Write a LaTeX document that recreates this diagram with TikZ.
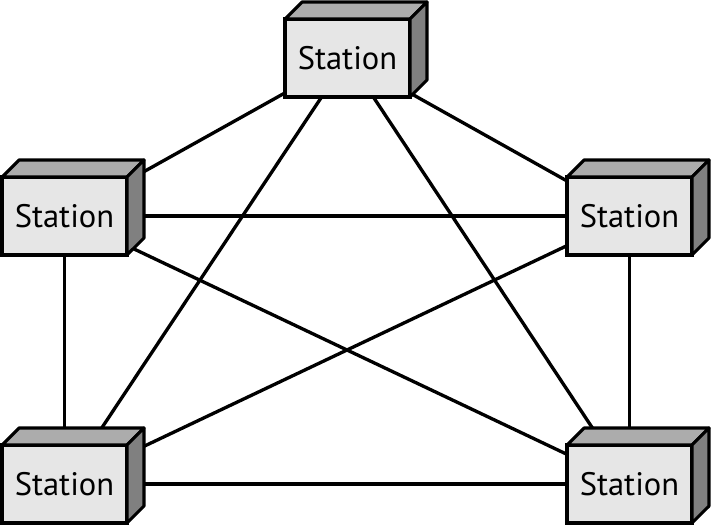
\documentclass[tikz,border=0pt]{standalone}
\usepackage{fontspec}
\setmainfont{PT Sans}
\usetikzlibrary{backgrounds}
\definecolor{frontgray}{RGB}{230,230,230}
\definecolor{topgray}{RGB}{172,172,172}
\definecolor{sidegray}{RGB}{128,128,128}
\tikzset{
  station/.style={draw, fill=frontgray, line width=1.8pt, outer sep=0pt,
    minimum width=2.5cm, minimum height=1.56cm, inner sep=0pt,
    font=\fontsize{18.5}{22}\selectfont},
  topface/.style={draw, fill=topgray, line width=1.8pt, line join=round},
  sideface/.style={draw, fill=sidegray, line width=1.8pt, line join=round},
  link/.style={line width=1.9pt}
}
\begin{document}
\begin{tikzpicture}[x=0.02cm,y=-0.02cm]
  \useasboundingbox (0,0) rectangle (712,526);

  \node[station] (top)      at (347.5,58)  {Station};
  \node[station] (left)     at (64.5,216)  {Station};
  \node[station] (right)    at (629.5,216) {Station};
  \node[station] (botleft)  at (64.5,484)  {Station};
  \node[station] (botright) at (629.5,484) {Station};

  \foreach \n in {top,left,right,botleft,botright}{
    \draw[topface] (\n.north west) -- ++(17,-17) -- ++(125,0) -- (\n.north east) -- cycle;
    \draw[sideface] (\n.north east) -- ++(17,-17) -- ++(0,78) -- (\n.south east) -- cycle;
  }

  \begin{pgfonlayer}{background}
    \foreach \a/\b in {top/left,top/right,top/botleft,top/botright,
                       left/right,left/botleft,left/botright,
                       right/botleft,right/botright,botleft/botright}
      \draw[link] (\a.center) -- (\b.center);
  \end{pgfonlayer}
\end{tikzpicture}
\end{document}
